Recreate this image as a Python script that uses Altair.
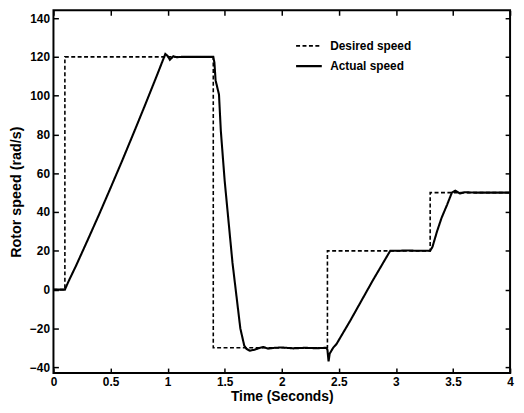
import altair as alt
import pandas as pd

# Desired speed (step reference)
desired_t = [0.0, 0.1, 0.1, 1.4, 1.4, 2.4, 2.4, 3.3, 3.3, 4.0]
desired_v = [0, 0, 120, 120, -30, -30, 20, 20, 50, 50]

# Actual speed
actual_t = [0.0, 0.1, 0.13, 0.2, 0.3, 0.4, 0.5, 0.6, 0.7, 0.8, 0.9, 0.96, 0.98,
            1.0, 1.02, 1.05, 1.08, 1.12, 1.4, 1.41, 1.42, 1.45, 1.466, 1.5, 1.568,
            1.637, 1.671, 1.688, 1.72, 1.76, 1.80, 1.84, 1.88, 1.94, 2.0, 2.1, 2.2,
            2.3, 2.39, 2.40, 2.41, 2.42, 2.43, 2.45, 2.48, 2.5, 2.55, 2.6, 2.7, 2.8,
            2.9, 2.95, 3.0, 3.1, 3.2, 3.3, 3.32, 3.36, 3.4, 3.45, 3.49, 3.52, 3.56,
            3.6, 3.7, 4.0]
actual_v = [0, 0, 4, 12.6, 25.6, 38.8, 52.4, 66.2, 80.4, 94.8, 109.5, 118.5, 121.5,
            120.5, 118.5, 120.3, 119.8, 120, 120, 117, 108, 100.6, 82, 56, 14,
            -20, -28.8, -30.4, -31.5, -31, -30.2, -29.6, -30.4, -30, -29.8, -30.3, -30,
            -30.2, -30, -31, -37, -33, -32, -30, -28, -26, -21, -16, -5.5, 5,
            15, 20, 20, 20.2, 20, 20, 22, 30, 37, 44, 50, 51, 49.6,
            50.2, 50, 50]

x_ticks = [0, 0.5, 1, 1.5, 2, 2.5, 3, 3.5, 4]
y_ticks = [-40, -20, 0, 20, 40, 60, 80, 100, 120, 140]
series_names = ["Desired speed", "Actual speed"]

rows = []
i = 0
for t, v in zip(desired_t, desired_v):
    rows.append({"t": t, "v": v, "series": series_names[0], "idx": i}); i += 1
for t, v in zip(actual_t, actual_v):
    rows.append({"t": t, "v": v, "series": series_names[1], "idx": i}); i += 1
df = pd.DataFrame(rows)

FONT = "Liberation Sans"
xscale = alt.Scale(domain=[0, 4], nice=False, zero=False)
yscale = alt.Scale(domain=[-43, 144], nice=False, zero=False)

main = alt.Chart(df).mark_line(color="black").encode(
    x=alt.X("t:Q", scale=xscale, title="Time (Seconds)",
            axis=alt.Axis(values=x_ticks, format="~g", offset=-5, tickSize=5,
                          tickWidth=1.5, tickColor="black", domain=False, grid=False,
                          labelPadding=4, labelFont=FONT, labelFontSize=12,
                          labelFontWeight="bold", labelColor="black",
                          titleFont=FONT, titleFontSize=14, titleFontWeight="bold",
                          titleColor="black", titlePadding=2, labelFlush=False)),
    y=alt.Y("v:Q", scale=yscale, title="Rotor speed (rad/s)",
            axis=alt.Axis(values=y_ticks, offset=-5, tickSize=5, tickWidth=1.5,
                          tickColor="black", domain=False, grid=False,
                          labelPadding=4, labelFont=FONT, labelFontSize=12,
                          labelFontWeight="bold", labelColor="black",
                          titleFont=FONT, titleFontSize=14.5, titleFontWeight="bold",
                          titleColor="black", titlePadding=6, labelFlush=False)),
    strokeDash=alt.StrokeDash("series:N", title=None,
                              scale=alt.Scale(domain=series_names, range=[[4, 2.5], [1, 0]]),
                              legend=alt.Legend(orient="none", legendX=244, legendY=22,
                                                symbolType="stroke", symbolSize=676,
                                                symbolStrokeWidth=1.8, symbolStrokeColor="black",
                                                labelFont=FONT, labelFontSize=12,
                                                labelFontWeight="bold", labelColor="black",
                                                labelOffset=7, rowPadding=-3)),
    strokeWidth=alt.StrokeWidth("series:N", scale=alt.Scale(domain=series_names, range=[1.6, 2.1]),
                                legend=None),
    order="idx:Q",
)

frame_axes = alt.Chart(df).mark_point(opacity=0).encode(
    x=alt.X("t:Q", scale=xscale, title=None,
            axis=alt.Axis(orient="top", values=x_ticks, labels=False, offset=-5, tickSize=5,
                          tickWidth=1.5, tickColor="black", domain=False, grid=False)),
    y=alt.Y("v:Q", scale=yscale, title=None,
            axis=alt.Axis(orient="right", values=y_ticks, labels=False, offset=-5, tickSize=5,
                          tickWidth=1.5, tickColor="black", domain=False, grid=False)),
)

chart = alt.layer(main, frame_axes).resolve_axis(x="independent", y="independent").properties(
    width=462, height=367,
    padding={"left": 46, "top": 0, "right": 6, "bottom": 30},
    autosize=alt.AutoSizeParams(type="none"),
    background="white",
).configure_view(stroke="black", strokeWidth=2)

chart.save("out.html", embed_options={"renderer": "svg", "actions": False})
